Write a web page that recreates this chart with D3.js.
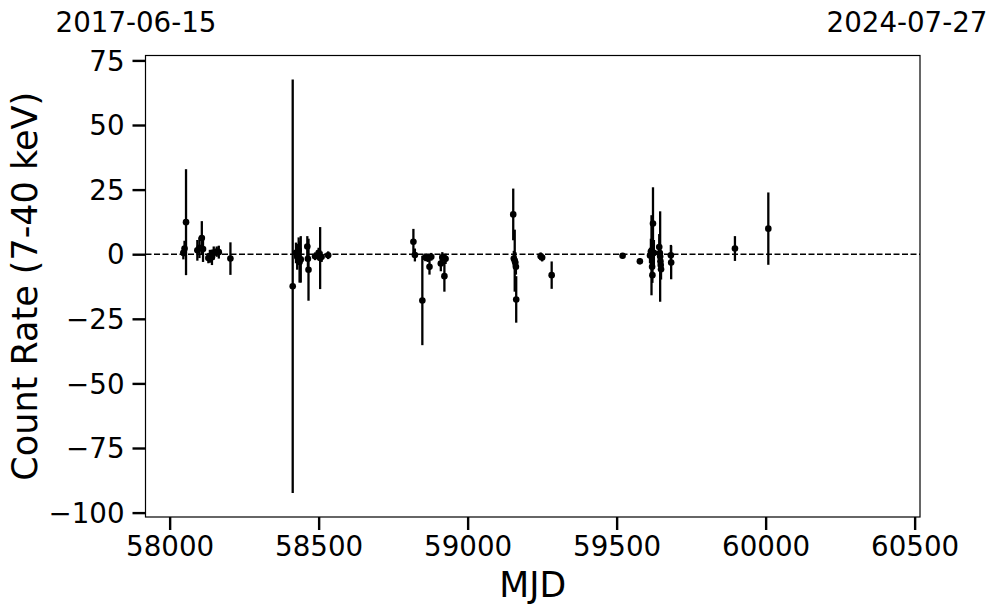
<!DOCTYPE html>
<html>
<head>
<meta charset="utf-8">
<script src="https://cdn.jsdelivr.net/npm/d3@7"></script>
<style>
html,body{margin:0;padding:0;background:#fff;}
svg{display:block;font-family:"DejaVu Sans",sans-serif;}
</style>
</head>
<body>
<svg id="chart" width="997" height="613"></svg>
<script>
const mjd = [
 58046,58050,58055,58093,58100,58108,58112,58130,58135,58142,58148,58158,58165,58204,
 58413,58424,58428,58433,58436,58440,58462,58464,58466,58488,58500,58505,58510,58532,
 58818,58823,58848,58858,58866,58872,58878,58910,58915,58922,58926,
 59153,59155,59158,59160,59162,59163,59245,59250,59282,
 59520,59578,59612,59615,59617,59619,59620,59622,59625,
 59643,59645,59646,59647,59648,59649,59682,59683,59897,60009
];
const rate = [
 0.5,2.2,12.4,1.5,2.5,6.3,2.0,-1.5,-0.8,-1.2,0.5,1.0,0.8,-1.7,
 -12.4,0.5,-1.0,1.5,-3.0,-2.0,3.0,-1.8,-6.0,-0.8,0.5,-1.5,-1.0,-0.4,
 4.8,-0.3,-17.9,-1.2,-1.5,-4.9,-1.0,-3.6,-1.2,-8.5,-1.8,
 15.4,-1.7,-2.5,-3.2,-4.9,-17.5,-0.8,-1.3,-8.1,
 -0.6,-2.7,-0.5,1.0,-0.4,-4.9,-8.1,11.9,0.5,
 2.8,0.4,-0.9,-2.7,-4.2,-5.8,-0.4,-3.2,2.2,9.9
];
const err = [
 2.5,3,20.5,4,4,6.5,5,2,2.5,3,2.5,2,2.5,6.3,
 80,4,5,5,8,9,4,4,12,1.5,2,12,2,1.5,
 5,2.5,17.3,1.5,1.5,3,1.5,3,2,6,2,
 10,3,12,4,3,9,1.5,1.5,5.3,
 1,1.2,3,5,15.5,4,3,14,5,
 5,6,17.5,4,5,4,4,6.5,4.8,14
];
const xTicks = [58000,58500,59000,59500,60000,60500];
const yTicks = [75,50,25,0,-25,-50,-75,-100];
const dateLabels = ["2017-06-15","2024-07-27"];
const xDomain = [57919,60518];
const yDomain = [-101.7,76.9];

const svg = d3.select("#chart");
const L=145.5, R=920, T=55.5, B=517;
const x = d3.scaleLinear().domain(xDomain).range([L,R]);
const y = d3.scaleLinear().domain(yDomain).range([B,T]);
const fmt = v => (v<0 ? "\u2212"+Math.abs(v) : String(v));

// zero line
svg.append("line").attr("x1",L).attr("x2",R).attr("y1",y(0)).attr("y2",y(0))
  .attr("stroke","#000").attr("stroke-width",1.5).attr("stroke-dasharray","6,2.5");

const data = mjd.map((m,i)=>({m, r:rate[i], e:err[i]}));
svg.append("g").selectAll("line").data(data).join("line")
  .attr("x1",d=>x(d.m)).attr("x2",d=>x(d.m))
  .attr("y1",d=>y(d.r+d.e)).attr("y2",d=>y(d.r-d.e))
  .attr("stroke","#000").attr("stroke-width",2.3);
svg.append("g").selectAll("circle").data(data).join("circle")
  .attr("cx",d=>x(d.m)).attr("cy",d=>y(d.r)).attr("r",3.3)
  .attr("fill","#000");

// axes
const xAxis = d3.axisBottom(x).tickValues(xTicks).tickSize(13).tickPadding(6).tickFormat(d=>String(d));
const gx = svg.append("g").attr("transform",`translate(0,${B})`).call(xAxis);
const yAxis = d3.axisLeft(y).tickValues(yTicks).tickSize(13).tickPadding(8).tickFormat(fmt);
const gy = svg.append("g").attr("transform",`translate(${L},0)`).call(yAxis);
[gx,gy].forEach(g=>{
  g.select(".domain").remove();
  g.selectAll(".tick line").attr("stroke","#000").attr("stroke-width",2.4);
  g.selectAll(".tick text").attr("fill","#000").style("font-size","27.7px").style("font-family","DejaVu Sans");
});
gy.selectAll(".tick text").attr("dy","0.35em");

// frame
svg.append("rect").attr("x",L).attr("y",T).attr("width",R-L).attr("height",B-T)
  .attr("fill","none").attr("stroke","#000").attr("stroke-width",1.2);

// labels
svg.append("text").attr("x",(L+R)/2).attr("y",597).attr("text-anchor","middle")
  .style("font-size","34.7px").text("MJD");
svg.append("text").attr("transform",`translate(37,${(T+B)/2}) rotate(-90)`).attr("text-anchor","middle")
  .style("font-size","35px").text("Count Rate (7-40 keV)");
svg.append("text").attr("x",136).attr("y",32).attr("text-anchor","middle")
  .style("font-size","27.7px").text(dateLabels[0]);
svg.append("text").attr("x",907).attr("y",32).attr("text-anchor","middle")
  .style("font-size","27.7px").text(dateLabels[1]);
</script>
</body>
</html>
